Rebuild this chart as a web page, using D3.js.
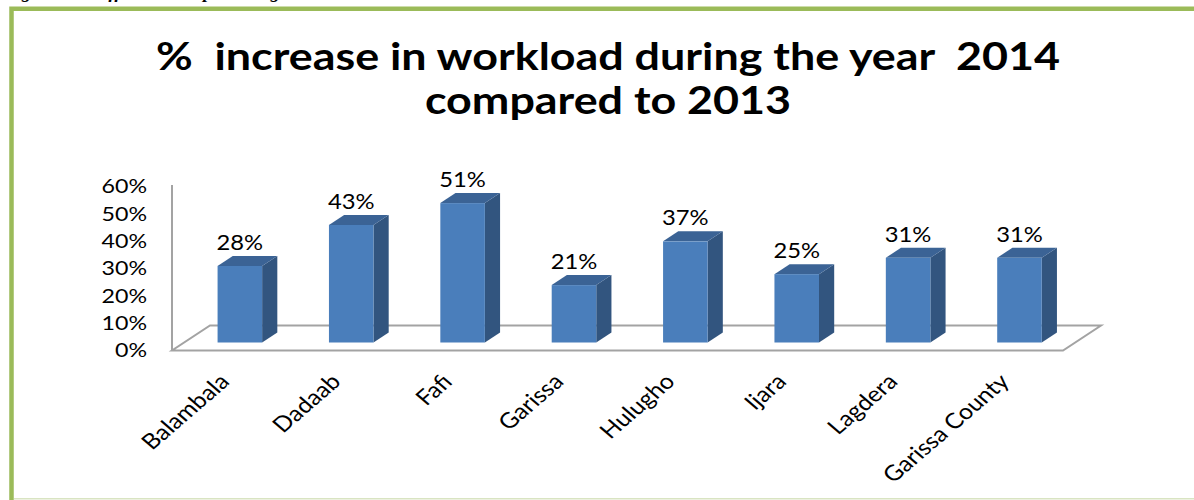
<!DOCTYPE html>
<html>
<head>
<meta charset="utf-8">
<script src="https://cdn.jsdelivr.net/npm/d3@7"></script>
<style>
  html, body { margin: 0; padding: 0; background: #ffffff; }
  svg { display: block; }
  text { font-family: Lato, "Open Sans", sans-serif; fill: #000; }
</style>
</head>
<body>
<svg id="chart" width="1194" height="500"></svg>
<script>
// ---- data ----
const categories = ["Balambala", "Dadaab", "Fafi", "Garissa", "Hulugho", "Ijara", "Lagdera", "Garissa County"];
const increase = [0.28, 0.43, 0.51, 0.21, 0.37, 0.25, 0.31, 0.31];
const tickValues = [0, 0.1, 0.2, 0.3, 0.4, 0.5, 0.6];
const titleLines = ["%  increase in workload during the year  2014", "compared to 2013"];
const caption = "Figure 5: Staff workload percentage increase";

const W = 1194, H = 500;
const svg = d3.select("#chart");
const sx = 1.16; // horizontal stretch applied to chart text

// ---- frame ----
svg.append("text")
  .attr("x", 4).attr("y", -2)
  .style("font-family", "'Liberation Serif', serif")
  .style("font-weight", "bold").style("font-style", "italic")
  .style("font-size", "19px")
  .text(caption);

svg.append("path")
  .attr("d", `M${W},8.8 H11.5 V${H}`)
  .attr("fill", "none").attr("stroke", "#9bbb59").attr("stroke-width", 4.5);
svg.append("line")
  .attr("x1", 14).attr("x2", W).attr("y1", 498.8).attr("y2", 498.8)
  .attr("stroke", "#d9e4c2").attr("stroke-width", 1.5);

// ---- title ----
const title = svg.append("text")
  .attr("text-anchor", "middle")
  .style("font-weight", "bold").style("font-size", "38px")
  .style("white-space", "pre");
titleLines.forEach((line, i) => {
  title.append("tspan")
    .attr("x", 0).attr("y", 0).attr("dy", i * 44)
    .text(line);
});
title.attr("transform", `translate(608,70) scale(1.18,1)`);

// ---- scales ----
const x = d3.scaleBand().domain(categories).range([172, 1063]).padding(0);
const y = d3.scaleLinear().domain([0, 0.6]).range([350.5, 186.5]);
const floorDepth = { dx: 38, dy: -25 };   // projection of the floor depth
const barFront = 0.32, barBack = 0.72;    // bar position within the floor depth
const barWidthRatio = 0.4;

const fdx = floorDepth.dx * barFront, fdy = floorDepth.dy * barFront;
const bdx = floorDepth.dx * (barBack - barFront), bdy = floorDepth.dy * (barBack - barFront);
const base = y(0);

// ---- floor & wall edge ----
const x0 = x.range()[0], x1 = x.range()[1];
svg.append("path")
  .attr("d", `M${x0},${base} L${x1},${base} L${x1 + floorDepth.dx},${base + floorDepth.dy} L${x0 + floorDepth.dx},${base + floorDepth.dy} Z`)
  .attr("fill", "none").attr("stroke", "#a3a3a3").attr("stroke-width", 2);
svg.append("line")
  .attr("x1", x0).attr("x2", x0).attr("y1", base).attr("y2", y(0.6) - 1.5)
  .attr("stroke", "#a3a3a3").attr("stroke-width", 2);

// ---- value axis ----
const yAxis = svg.append("g")
  .attr("transform", `translate(${x0},0)`)
  .call(d3.axisLeft(y).tickValues(tickValues).tickFormat(d3.format(".0%")).tickSize(0).tickPadding(0));
yAxis.select(".domain").remove();
yAxis.selectAll("text")
  .attr("x", 0)
  .attr("transform", `translate(-25,0) scale(${sx},1)`)
  .style("font-family", "Lato, sans-serif")
  .style("font-size", "20px")
  .attr("fill", "#000");

// ---- bars ----
const rows = categories.map((c, i) => ({ c, v: increase[i] }));
const bw = x.bandwidth() * barWidthRatio;
const bars = svg.append("g").selectAll("g").data(rows).join("g");

bars.each(function (d) {
  const g = d3.select(this);
  const left = x(d.c) + (x.bandwidth() - bw) / 2 + fdx;
  const right = left + bw;
  const bottom = base + fdy;
  const top = bottom - (base - y(d.v));
  // side face
  g.append("path")
    .attr("d", `M${right},${bottom} L${right + bdx},${bottom + bdy} L${right + bdx},${top + bdy} L${right},${top} Z`)
    .attr("fill", "#32557f");
  // top face
  g.append("path")
    .attr("d", `M${left},${top} L${right},${top} L${right + bdx},${top + bdy} L${left + bdx},${top + bdy} Z`)
    .attr("fill", "#3b6395");
  // front face
  g.append("rect")
    .attr("x", left).attr("y", top).attr("width", bw).attr("height", bottom - top)
    .attr("fill", "#4a7ebb");
  // value label
  g.append("text")
    .attr("text-anchor", "middle")
    .attr("transform", `translate(${left + bw / 2},${top + bdy - 6}) scale(${sx},1)`)
    .style("font-size", "20.5px")
    .text(d3.format(".0%")(d.v));
});

// ---- category axis ----
const xAxis = svg.append("g")
  .attr("transform", `translate(${fdx - 9},383)`)
  .call(d3.axisBottom(x).tickSize(0).tickPadding(0));
xAxis.select(".domain").remove();
xAxis.selectAll("text")
  .attr("x", 0).attr("y", 0).attr("dy", "0")
  .attr("text-anchor", "end")
  .attr("transform", `scale(${sx},1) rotate(-45)`)
  .style("font-family", "Lato, sans-serif")
  .style("font-size", "21.5px")
  .attr("fill", "#000");
</script>
</body>
</html>
